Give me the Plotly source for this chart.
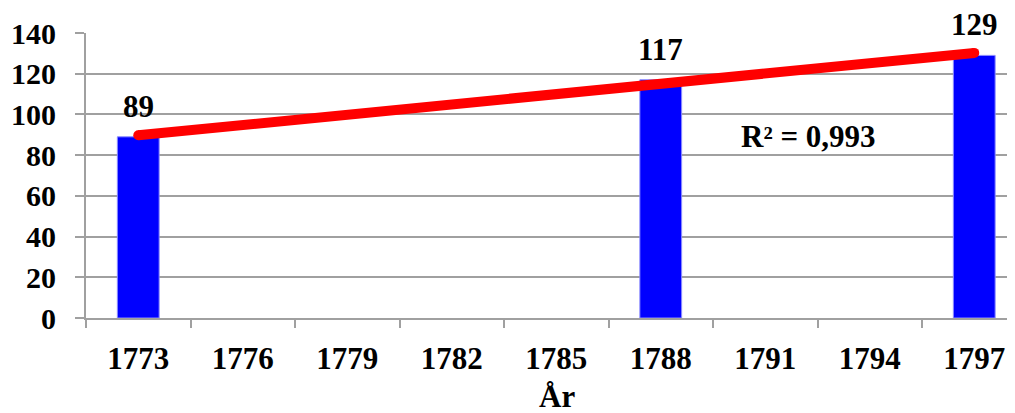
import numpy as np
import plotly.graph_objects as go

years = ["1773", "1776", "1779", "1782", "1785", "1788", "1791", "1794", "1797"]
values = [89, None, None, None, None, 117, None, None, 129]
r2_label = "R² = 0,993"
x_title = "År"

FONT = "Liberation Serif"
FS = 31

# linear trendline over category positions (as a spreadsheet trendline does)
idx = np.array([i for i, v in enumerate(values) if v is not None], dtype=float)
vals = np.array([v for v in values if v is not None], dtype=float)
slope, intercept = np.polyfit(idx, vals, 1)
t_idx = np.arange(int(idx.min()), int(idx.max()) + 1)
trend_x = [years[i] for i in t_idx]
trend_y = list(slope * t_idx + intercept)

fig = go.Figure()
fig.add_trace(go.Bar(
    x=years, y=values,
    marker=dict(color="#0000FF", line=dict(color="#8c8cff", width=1)),
    showlegend=False, hoverinfo="skip",
))
fig.add_trace(go.Scatter(
    x=trend_x, y=trend_y, mode="lines",
    line=dict(color="#FF0000", width=10),
    showlegend=False, hoverinfo="skip",
))
# round caps at the ends of the trendline
fig.add_trace(go.Scatter(
    x=[trend_x[0], trend_x[-1]], y=[trend_y[0], trend_y[-1]], mode="markers",
    marker=dict(color="#FF0000", size=10, line=dict(width=0)),
    showlegend=False, hoverinfo="skip",
))

for i, v in enumerate(values):
    if v is None:
        continue
    fig.add_annotation(
        x=i, y=v, xref="x", yref="y", text=str(v), showarrow=False,
        yanchor="bottom", yshift=11,
        font=dict(family=FONT, size=FS, color="black", weight="bold"),
    )

fig.add_annotation(
    x=0.778, y=89, xref="paper", yref="y", text=r2_label, showarrow=False,
    xanchor="center", yanchor="middle",
    font=dict(family=FONT, size=FS, color="black", weight="bold"),
)
fig.add_annotation(
    x=0.507, y=-0.274, xref="paper", yref="paper", text=x_title, showarrow=False,
    xanchor="center", yanchor="middle",
    font=dict(family=FONT, size=FS, color="black", weight="bold"),
)

fig.update_layout(
    width=1015, height=413,
    margin=dict(l=78, r=8, t=25, b=103, autoexpand=False),
    paper_bgcolor="white", plot_bgcolor="white",
    bargap=0.6,
    font=dict(family=FONT, size=FS, color="black", weight="bold"),
    xaxis=dict(
        type="category", range=[-0.5, 8.39], automargin=False,
        showline=True, linecolor="#a0a0a0", linewidth=2,
        ticks="outside", ticklen=8, tickcolor="#a0a0a0", tickwidth=2,
        tickson="boundaries", showgrid=False,
        ticklabelstandoff=12,
        tickfont=dict(family=FONT, size=FS, color="black", weight="bold"),
    ),
    yaxis=dict(
        range=[0, 140], dtick=20, tick0=0, automargin=False,
        showline=True, linecolor="#a0a0a0", linewidth=2,
        ticks="outside", ticklen=9, tickcolor="#a0a0a0", tickwidth=2,
        showgrid=True, gridcolor="#a0a0a0", gridwidth=2,
        zeroline=False, ticklabelstandoff=13,
        tickfont=dict(family=FONT, size=30, color="black", weight="bold"),
    ),
)

fig.write_html("out.html")
